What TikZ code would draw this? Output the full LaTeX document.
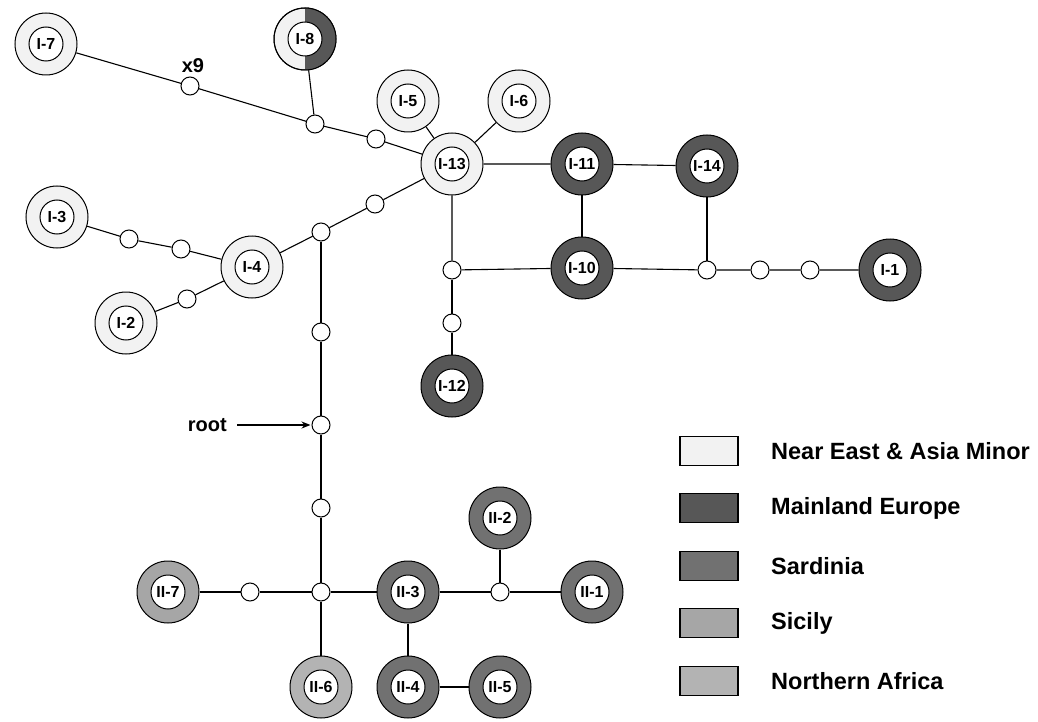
\documentclass[tikz,border=0pt]{standalone}
\usepackage{fontspec}
\setmainfont{Liberation Sans}
\usetikzlibrary{arrows.meta}
\definecolor{ne}{HTML}{F2F2F2}
\definecolor{me}{HTML}{575757}
\definecolor{sa}{HTML}{717171}
\definecolor{si}{HTML}{A6A6A6}
\definecolor{na}{HTML}{B3B3B3}
\tikzset{
  hap/.style={circle, draw, line width=1pt, minimum size=62pt, inner sep=0pt},
  lab/.style={circle, draw, fill=white, line width=1pt, minimum size=34pt, inner sep=0pt, font=\bfseries\fontsize{16}{16}\selectfont},
  sm/.style={circle, draw, fill=white, minimum size=18pt, inner sep=0pt, line width=1pt},
  edge/.style={line width=1.1pt},
  legbox/.style={draw, line width=1.5pt, minimum width=58pt, minimum height=29pt, inner sep=0pt},
  legtxt/.style={anchor=west, inner sep=0pt, font=\bfseries\fontsize{23.5}{23.5}\selectfont},
  bigtxt/.style={inner sep=0pt, font=\bfseries\fontsize{20}{20}\selectfont}
}
\newcommand\haplo[4]{\node[hap, fill=#3] (#1) at (#2) {}; \node[lab] (#1l) at (#2) {#4};}
\begin{document}
\begin{tikzpicture}[x=1pt,y=-1pt]
\useasboundingbox (0,0) rectangle (1038,722);
% haplotypes
\haplo{I7}{46,44}{ne}{I-7}
\node[hap, fill=ne] (I8) at (305,39) {};
\fill[me] (I8.north) arc[start angle=90, end angle=-90, radius=31pt] -- cycle;
\draw[line width=1pt] (I8.center) circle[radius=31pt];
\node[lab] (I8l) at (305,39) {I-8};
\haplo{I5}{408,101}{ne}{I-5}
\haplo{I6}{519,101}{ne}{I-6}
\haplo{I13}{452,164}{ne}{I-13}
\haplo{I11}{582,164}{me}{I-11}
\haplo{I14}{707,166}{me}{I-14}
\haplo{I3}{57,217}{ne}{I-3}
\haplo{I4}{252,267}{ne}{I-4}
\haplo{I2}{126,323}{ne}{I-2}
\haplo{I10}{582,268}{me}{I-10}
\haplo{I1}{890,270}{me}{I-1}
\haplo{I12}{452,386}{me}{I-12}
\haplo{II2}{500,518}{sa}{II-2}
\haplo{II7}{168,592}{si}{II-7}
\haplo{II3}{408,592}{sa}{II-3}
\haplo{II1}{592,592}{sa}{II-1}
\haplo{II6}{321,687}{na}{II-6}
\haplo{II4}{408,687}{sa}{II-4}
\haplo{II5}{500,687}{sa}{II-5}
% median vectors
\node[sm] (s1) at (190,86) {};
\node[sm] (s2) at (315,124) {};
\node[sm] (s3) at (376,139) {};
\node[sm] (s4) at (375,204) {};
\node[sm] (s5) at (321,232) {};
\node[sm] (s6) at (129,239) {};
\node[sm] (s7) at (181,249) {};
\node[sm] (s8) at (187,299) {};
\node[sm] (s9) at (321,332) {};
\node[sm] (s10) at (321,425) {};
\node[sm] (s11) at (321,508) {};
\node[sm] (s12) at (250,592) {};
\node[sm] (s13) at (321,592) {};
\node[sm] (s14) at (500,592) {};
\node[sm] (s15) at (452,270) {};
\node[sm] (s16) at (452,323) {};
\node[sm] (s17) at (707,270) {};
\node[sm] (s18) at (760,270) {};
\node[sm] (s19) at (810,270) {};
% edges
\draw[edge] (I7) -- (s1) -- (s2) -- (s3) -- (I13);
\draw[edge] (I8) -- (s2);
\draw[edge] (I5) -- (I13);
\draw[edge] (I6) -- (I13);
\draw[edge] (I13) -- (I11) -- (I14);
\draw[edge] (I11) -- (I10);
\draw[edge] (I13) -- (s15) -- (I10) -- (s17) -- (s18) -- (s19) -- (I1);
\draw[edge] (I14) -- (s17);
\draw[edge] (s15) -- (s16) -- (I12);
\draw[edge] (I13) -- (s4) -- (s5) -- (I4);
\draw[edge] (I3) -- (s6) -- (s7) -- (I4);
\draw[edge] (I2) -- (s8) -- (I4);
\draw[edge] (s5) -- (s9) -- (s10) -- (s11) -- (s13);
\draw[edge] (II7) -- (s12) -- (s13) -- (II3) -- (s14) -- (II1);
\draw[edge] (II2) -- (s14);
\draw[edge] (s13) -- (II6);
\draw[edge] (II3) -- (II4) -- (II5);
% labels
\node[bigtxt] (x9) at (193,66) {x9};
\node[bigtxt, anchor=east] (root) at (227,425) {root};
\draw[line width=1.5pt, -{Stealth[length=9pt,width=7pt]}, shorten <=10pt, shorten >=1pt] (root.east) -- (s10.west);
% legend
\node[legbox, fill=ne] (L1) at (709,451) {};
\node[legbox, fill=me] (L2) at (709,508) {};
\node[legbox, fill=sa] (L3) at (709,566) {};
\node[legbox, fill=si] (L4) at (709,623) {};
\node[legbox, fill=na] (L5) at (709,681) {};
\node[legtxt] (T1) at (771,451) {Near East \& Asia Minor};
\node[legtxt] (T2) at (771,508) {Mainland Europe};
\node[legtxt] (T3) at (771,566) {Sardinia};
\node[legtxt] (T4) at (771,623) {Sicily};
\node[legtxt] (T5) at (771,681) {Northern Africa};
\end{tikzpicture}
\end{document}
